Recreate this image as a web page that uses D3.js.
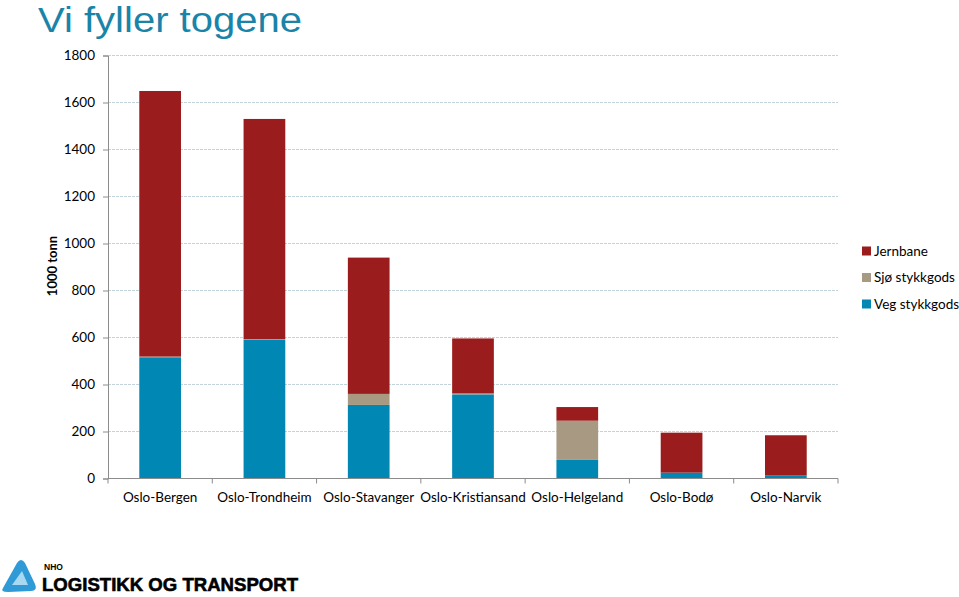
<!DOCTYPE html>
<html><head><meta charset="utf-8">
<script src="https://cdn.jsdelivr.net/npm/d3@7"></script>
<style>body{margin:0;background:#fff}svg{display:block}</style>
</head><body>
<script>
const categories = ["Oslo-Bergen","Oslo-Trondheim","Oslo-Stavanger","Oslo-Kristiansand","Oslo-Helgeland","Oslo-Bodø","Oslo-Narvik"];
const veg = [516, 590, 313, 358, 79, 25, 14];
const sjo = [3, 3, 47, 4, 167, 0, 0];
const jernbane = [1130, 937, 580, 234, 58, 170, 170];
const seriesNames = ["Veg stykkgods","Sjø stykkgods","Jernbane"];
const colors = ["#0087b4","#a89a82","#9b1c1c"];
const yTicks = [0,200,400,600,800,1000,1200,1400,1600,1800];

(function(){
const W = 959, H = 597;
const svg = d3.select("body").append("svg").attr("width", W).attr("height", H);
const font = "Lato, 'Open Sans', sans-serif";

svg.append("text").attr("x", 38).attr("y", 32).attr("font-family","'Liberation Sans', Arial, sans-serif")
  .attr("font-size", 35).attr("fill", "#1a84a8").attr("textLength", 264).attr("lengthAdjust","spacingAndGlyphs")
  .text("Vi fyller togene");

const pLeft = 108, pRight = 838, pTop = 55.5, pBottom = 478.5;
const x = d3.scaleBand().domain(categories).range([pLeft, pRight]).paddingInner(0.6).paddingOuter(0.3);
const y = d3.scaleLinear().domain([0,1800]).range([pBottom, pTop]);

// gridlines
svg.append("g").selectAll("line").data(yTicks.slice(1)).join("line")
  .attr("x1", pLeft).attr("x2", pRight).attr("y1", d=>y(d)).attr("y2", d=>y(d))
  .attr("stroke", "#c3d3dc").attr("stroke-width", 1).attr("stroke-dasharray","3,1");

// stacked bars
const rows = categories.map((c,i)=>({cat:c, "Veg stykkgods":veg[i], "Sjø stykkgods":sjo[i], "Jernbane":jernbane[i]}));
const stack = d3.stack().keys(seriesNames)(rows);
svg.append("g").selectAll("g").data(stack).join("g").attr("fill",(d,i)=>colors[i])
  .selectAll("rect").data(d=>d).join("rect")
  .attr("x", d=>x(d.data.cat)).attr("width", x.bandwidth())
  .attr("y", d=>y(d[1])).attr("height", d=>Math.max(0, y(d[0])-y(d[1])));

// y axis
const yAxis = svg.append("g").attr("transform", `translate(${pLeft},0)`)
  .call(d3.axisLeft(y).tickValues(yTicks).tickSize(5).tickPadding(8).tickFormat(d3.format("d")));
yAxis.select(".domain").attr("stroke","#8c8c8c");
yAxis.selectAll(".tick line").attr("stroke","#8c8c8c");
yAxis.selectAll("text").attr("font-family", font).attr("font-size", 13.5).attr("fill","#000");

// x axis
const xg = svg.append("g").attr("transform", `translate(0,${pBottom})`);
xg.append("line").attr("x1", pLeft).attr("x2", pRight).attr("stroke","#8c8c8c");
const bounds = d3.range(categories.length+1).map(i=>pLeft + i*(pRight-pLeft)/categories.length);
xg.selectAll(".tk").data(bounds).join("line").attr("class","tk")
  .attr("x1", d=>d).attr("x2", d=>d).attr("y1", 0).attr("y2", 5).attr("stroke","#8c8c8c");
xg.selectAll("text").data(categories).join("text")
  .attr("x", d=>x(d)+x.bandwidth()/2).attr("y", 23).attr("text-anchor","middle")
  .attr("font-family", font).attr("font-size", 13.5).attr("fill","#000").text(d=>d);

// y label
svg.append("text").attr("transform","translate(57,266) rotate(-90)").attr("text-anchor","middle")
  .attr("font-family", font).attr("font-size", 13).attr("font-weight","bold").text("1000 tonn");

// legend
const legOrder = [2,1,0];
const lg = svg.append("g");
legOrder.forEach((si,k)=>{
  const yy = 251 + k*26.5;
  lg.append("rect").attr("x", 862).attr("y", yy-4.5).attr("width", 9).attr("height", 9).attr("fill", colors[si]);
  lg.append("text").attr("x", 874).attr("y", yy+4.5).attr("font-family", font).attr("font-size", 13.5).text(seriesNames[si]);
});

// logo
const logo = svg.append("g");
logo.append("path").attr("d","M3,588 L17,563 Q21,557 25,563 L35,584 Q38,591 31,591 L8,592 Q0,592 3,588 Z").attr("fill","#2f9ad6");
logo.append("path").attr("d","M12,585 L22,571 L28,585 Z").attr("fill","#a8d8f2");
logo.append("text").attr("x", 44).attr("y", 570).attr("font-family","'Liberation Sans', Arial, sans-serif")
  .attr("font-size", 8.5).attr("font-weight","bold").text("NHO");
logo.append("text").attr("x", 42).attr("y", 591).attr("font-family","'Liberation Sans', Arial, sans-serif")
  .attr("font-size", 19).attr("font-weight","900").attr("stroke","#000").attr("stroke-width",0.6)
  .attr("textLength", 256).attr("lengthAdjust","spacingAndGlyphs")
  .text("LOGISTIKK OG TRANSPORT");
})();
</script>
</body></html>
